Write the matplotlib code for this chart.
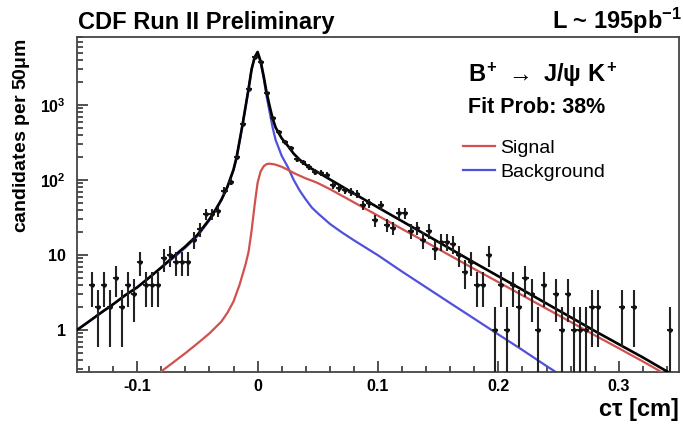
import matplotlib
matplotlib.use("Agg")
import matplotlib.pyplot as plt
import numpy as np
from matplotlib.ticker import FixedLocator, LogLocator, MultipleLocator, NullFormatter, FixedFormatter

plt.rcParams["font.family"] = ["Liberation Sans", "DejaVu Sans"]
plt.rcParams["mathtext.fontset"] = "custom"
plt.rcParams["mathtext.rm"] = "Liberation Sans:bold"
plt.rcParams["mathtext.it"] = "Liberation Sans:bold"
plt.rcParams["mathtext.bf"] = "Liberation Sans:bold"

# binned ct data, 50 um bins (bin centres in cm, candidates per bin)
bin_ct = [
    -0.1375, -0.1325, -0.1275, -0.1225, -0.1175, -0.1125, -0.1075, -0.1025,
    -0.0975, -0.0925, -0.0875, -0.0825, -0.0775, -0.0725, -0.0675, -0.0625,
    -0.0575, -0.0525, -0.0475, -0.0425, -0.0375, -0.0325, -0.0275, -0.0225,
    -0.0175, -0.0125, -0.0075, -0.0025, 0.0025, 0.0075, 0.0125, 0.0175,
    0.0225, 0.0275, 0.0325, 0.0375, 0.0425, 0.0475, 0.0525, 0.0575,
    0.0625, 0.0675, 0.0725, 0.0775, 0.0825, 0.0875, 0.0925, 0.0975,
    0.1025, 0.1075, 0.1125, 0.1175, 0.1225, 0.1275, 0.1325, 0.1375,
    0.1425, 0.1475, 0.1525, 0.1575, 0.1625, 0.1675, 0.1725, 0.1775,
    0.1825, 0.1875, 0.1925, 0.1975, 0.2025, 0.2075, 0.2125, 0.2175,
    0.2225, 0.2275, 0.2325, 0.2375, 0.2475, 0.2525, 0.2575, 0.2625,
    0.2675, 0.2725, 0.2775, 0.2825, 0.3025, 0.3125, 0.3425,
]
bin_counts = [
    4, 2, 4, 2, 5, 2, 4, 3,
    8, 4, 4, 4, 9, 10, 8, 8,
    8, 16, 22, 35, 35, 38, 72, 95,
    200, 560, 1650, 4350, 3800, 1450, 670, 440,
    325, 265, 190, 173, 150, 129, 123, 117,
    86, 77, 73, 70, 66, 46, 49, 29,
    46, 25, 23, 36, 36, 21, 23, 16,
    21, 12, 15, 15, 14, 10, 6, 8,
    4, 4, 10, 1, 4, 1, 4, 2,
    5, 3, 1, 4, 3, 1, 3, 1,
    1, 1, 2, 2, 2, 2, 1,
]

# fit projections: total, signal and background
total_ct = [
    -0.15, -0.14, -0.13, -0.12, -0.11, -0.10, -0.09, -0.08, -0.07, -0.06,
    -0.05, -0.04, -0.035, -0.03, -0.025, -0.02, -0.0175, -0.015, -0.0125, -0.01,
    -0.0075, -0.005, -0.0025, 0.0, 0.0025, 0.005, 0.0075, 0.01, 0.0125, 0.015,
    0.02, 0.025, 0.03, 0.035, 0.04, 0.045, 0.05, 0.06, 0.07, 0.08,
    0.10, 0.12, 0.14, 0.16, 0.18, 0.20, 0.22, 0.24, 0.26, 0.28,
    0.30, 0.32, 0.34, 0.35,
]
total_fit = [
    1.0, 1.3, 1.7, 2.2, 2.9, 3.7, 5.0, 6.8, 9.5, 13,
    18.5, 30, 40, 55, 82, 138, 200, 330, 550, 950,
    1650, 3000, 4300, 5100, 3850, 2450, 1460, 965, 660, 500,
    360, 287, 224, 186, 160, 141, 127, 102, 82, 66,
    43, 28.2, 18.5, 12.1, 7.9, 5.2, 3.43, 2.25, 1.48, 0.97,
    0.645, 0.43, 0.28, 0.23,
]
signal_ct = [
    -0.085, -0.08, -0.07, -0.06, -0.05, -0.04, -0.03, -0.025, -0.02, -0.015,
    -0.01, -0.0075, -0.005, -0.0025, 0.0, 0.0025, 0.005, 0.0075, 0.01, 0.0125,
    0.015, 0.02, 0.025, 0.03, 0.035, 0.04, 0.045, 0.05, 0.06, 0.07,
    0.08, 0.10, 0.12, 0.14, 0.16, 0.18, 0.20, 0.22, 0.24, 0.26,
    0.28, 0.30, 0.32, 0.34, 0.35,
]
signal_fit = [
    0.24, 0.28, 0.37, 0.49, 0.66, 0.90, 1.3, 1.7, 2.4, 4.0,
    7.5, 11, 21, 46, 92, 130, 152, 163, 165, 163,
    160, 150, 137, 124, 114, 105, 98, 91, 75.6, 61.7,
    50.3, 33.4, 22.2, 14.8, 9.8, 6.5, 4.34, 2.89, 1.92, 1.28,
    0.85, 0.57, 0.38, 0.25, 0.20,
]
backgr_ct = [
    -0.15, -0.14, -0.13, -0.12, -0.11, -0.10, -0.09, -0.08, -0.07, -0.06,
    -0.05, -0.04, -0.035, -0.03, -0.025, -0.02, -0.0175, -0.015, -0.0125, -0.01,
    -0.0075, -0.005, -0.0025, 0.0, 0.0025, 0.005, 0.0075, 0.01, 0.0125, 0.015,
    0.02, 0.025, 0.03, 0.035, 0.04, 0.045, 0.05, 0.06, 0.07, 0.08,
    0.10, 0.12, 0.14, 0.16, 0.18, 0.20, 0.22, 0.24, 0.25,
]
backgr_fit = [
    1.0, 1.3, 1.7, 2.2, 2.9, 3.7, 5.0, 6.8, 9.1, 12.5,
    17.8, 29, 39, 54, 80, 135, 195, 325, 545, 940,
    1635, 2975, 4250, 5000, 3700, 2300, 1300, 800, 500, 340,
    210, 150, 100, 72, 55, 43, 36, 26, 20, 15.7,
    9.9, 6.0, 3.7, 2.28, 1.41, 0.87, 0.54, 0.33, 0.26,
]

W, H = 683, 425
fig = plt.figure(figsize=(W / 100, H / 100), dpi=100)
ax = fig.add_axes([77 / W, 1 - 372 / H, 602 / W, 335 / H])
ax.set_yscale("log", nonpositive="clip")

red = "#d2504e"
blue = "#5050dc"
ax.plot(backgr_ct, backgr_fit, color=blue, lw=1.6, zorder=2)
ax.plot(signal_ct, signal_fit, color=red, lw=1.6, zorder=3)
ax.plot(total_ct, total_fit, color="black", lw=1.9, zorder=4)

counts = np.array(bin_counts, dtype=float)
ax.errorbar(bin_ct, counts, xerr=0.0025, yerr=np.sqrt(counts), fmt="o", ms=2.2,
            color="#111111", ecolor="#222222", elinewidth=1.5, capsize=0, zorder=5)

ax.set_xlim(-0.15, 0.35)
ax.set_ylim(0.275, 8070)

ax.xaxis.set_major_locator(FixedLocator([-0.1, 0.0, 0.1, 0.2, 0.3]))
ax.xaxis.set_major_formatter(FixedFormatter(["-0.1", "0", "0.1", "0.2", "0.3"]))
ax.xaxis.set_minor_locator(MultipleLocator(0.02))
ax.yaxis.set_major_locator(FixedLocator([1, 10, 100, 1000]))
ax.yaxis.set_major_formatter(FixedFormatter(["1", "10", r"10$^{2}$", r"10$^{3}$"]))
ax.yaxis.set_minor_locator(LogLocator(base=10, subs=np.arange(2, 10)))
ax.yaxis.set_minor_formatter(NullFormatter())

ax.tick_params(which="both", direction="in", top=False, right=False, color="#333333",
               width=1.2, labelsize=11.5)
ax.tick_params(which="major", length=8)
ax.tick_params(which="minor", length=4.5)
for lab in ax.get_xticklabels() + ax.get_yticklabels():
    lab.set_fontweight("bold")
ax.tick_params(axis="x", pad=5)
ax.tick_params(axis="y", pad=8)
for sp in ax.spines.values():
    sp.set_color("#444444")
    sp.set_linewidth(1.3)


def px(x, y):
    return x / W, 1 - y / H


fig.text(*px(78, 29), "CDF Run II Preliminary", fontsize=17, fontweight="bold",
         ha="left", va="baseline")
fig.text(*px(682, 29), r"L ~ 195pb$^{-1}$", fontsize=17, fontweight="bold",
         ha="right", va="baseline")
fig.text(*px(679, 416), r"c$\tau$ [cm]", fontsize=17, fontweight="bold",
         ha="right", va="baseline")
fig.text(*px(22, 136), r"candidates per 50$\mu$m", fontsize=14, fontweight="bold",
         rotation=90, ha="center", va="center")

fig.text(*px(468, 82), r"$B^{+}\ \rightarrow\ J/\psi\ K^{+}$", fontsize=17,
         ha="left", va="baseline")
fig.text(*px(468, 113), "Fit Prob: 38%", fontsize=15.5, fontweight="bold",
         ha="left", va="baseline")

for y_leg, col, name in [(146, red, "Signal"), (170, blue, "Background")]:
    fig.add_artist(plt.Line2D([463 / W, 495 / W], [1 - y_leg / H] * 2, color=col, lw=1.6))
    fig.text(*px(500, y_leg + 7), name, fontsize=14, ha="left", va="baseline")

fig.savefig("out.png", dpi=100)
